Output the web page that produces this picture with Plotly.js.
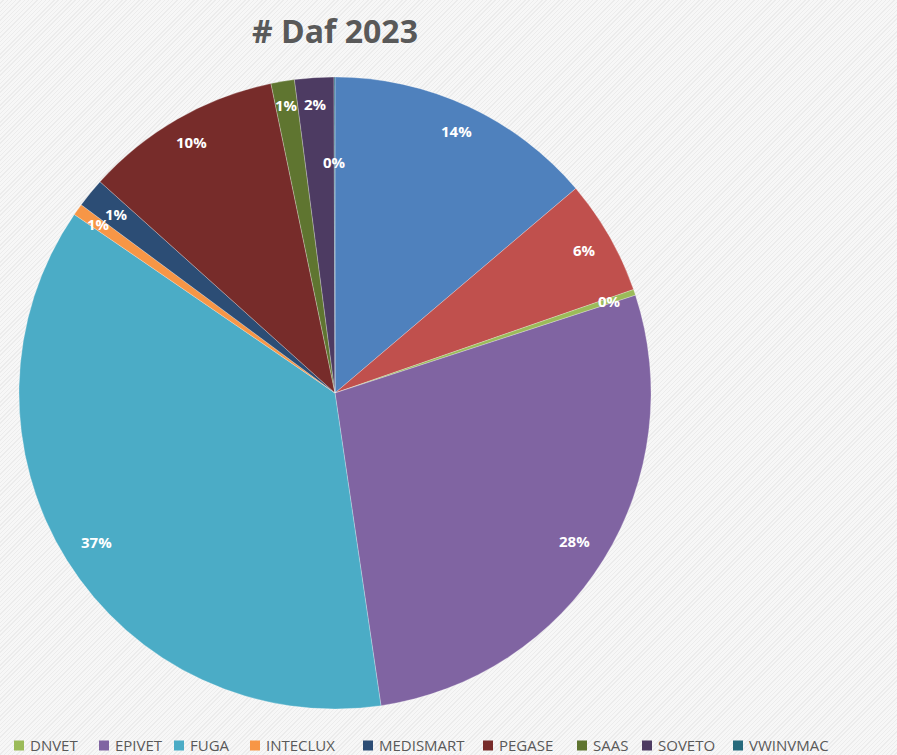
<!DOCTYPE html>
<html><head><meta charset="utf-8">
<script src="https://cdn.plot.ly/plotly-3.0.1.min.js"></script>
<style>
html,body{margin:0;padding:0;}
body{width:897px;height:755px;background:#f3f3f3;background-image:repeating-linear-gradient(135deg,#f7f7f7 0px,#f7f7f7 2px,#ececec 2px,#ececec 3px);}
#chart{width:897px;height:755px;}
</style></head><body><div id="chart"></div>
<script>
// data
const labels = ["(série 1)", "(série 2)", "DNVET", "EPIVET", "FUGA", "INTECLUX", "MEDISMART", "PEGASE", "SAAS", "SOVETO", "VWINVMAC"];
const values = [13.8, 5.9, 0.3, 27.7, 36.9, 0.6, 1.5, 10.1, 1.2, 2.0, 0.05];
const colors = ["#4f81bd", "#c0504d", "#9bbb59", "#8064a2", "#4bacc6", "#f79646", "#2c4d75", "#772c2a", "#5f7530", "#4d3b62", "#276a7c"];
const legendNames = ["DNVET", "EPIVET", "FUGA", "INTECLUX", "MEDISMART", "PEGASE", "SAAS", "SOVETO", "VWINVMAC"];
const legendColors = ["#9bbb59", "#8064a2", "#4bacc6", "#f79646", "#2c4d75", "#772c2a", "#5f7530", "#4d3b62", "#276a7c"];
const legendX = [14, 99, 174, 250, 363, 483, 577, 642, 733];
const labelRadius = [0.915, 0.91, 0.915, 0.89, 0.89, 0.92, 0.895, 0.915, 0.925, 0.915, 0.73];

const W = 897, H = 755;
const cx = 335, cy = 393, R = 316;
const dom = {x: [(cx - R) / W, (cx + R) / W], y: [1 - (cy + R) / H, 1 - (cy - R) / H]};

const total = values.reduce((a, b) => a + b, 0);
const annotations = [];
const shapes = [];
let cum = 0;
values.forEach((v, i) => {
  const mid = (cum + v / 2) / total * 2 * Math.PI;
  cum += v;
  const r = R * labelRadius[i];
  const px = cx + r * Math.sin(mid);
  const py = cy - r * Math.cos(mid);
  annotations.push({
    x: px / W, y: 1 - py / H, xref: 'paper', yref: 'paper', xanchor: 'center', yanchor: 'middle',
    showarrow: false,
    text: '<b>' + Math.round(v / total * 100) + '%</b>',
    font: {family: 'Open Sans, sans-serif', size: 15, color: '#ffffff'}
  });
});
legendNames.forEach((n, i) => {
  const sx = legendX[i];
  shapes.push({
    type: 'rect', xref: 'paper', yref: 'paper',
    x0: sx / W, x1: (sx + 10) / W, y0: 1 - 750.5 / H, y1: 1 - 740.5 / H,
    fillcolor: legendColors[i], line: {width: 0}
  });
  annotations.push({
    x: (sx + 14) / W, y: 1 - 744.5 / H, xref: 'paper', yref: 'paper', xanchor: 'left', yanchor: 'middle',
    showarrow: false, text: n,
    font: {family: 'Open Sans, sans-serif', size: 15, color: '#595959'}
  });
});

Plotly.newPlot('chart', [{
  type: 'pie', labels: labels, values: values, sort: false, direction: 'clockwise', rotation: 0,
  marker: {colors: colors, line: {color: 'rgba(255,255,255,0.5)', width: 0.5}},
  textinfo: 'none', hoverinfo: 'label+percent', showlegend: false, domain: dom
}], {
  width: W, height: H,
  margin: {l: 0, r: 0, t: 0, b: 0},
  paper_bgcolor: 'rgba(0,0,0,0)', plot_bgcolor: 'rgba(0,0,0,0)',
  title: {text: '<b># Daf 2023</b>', x: cx / W, xanchor: 'center', y: 1 - 32 / H, yanchor: 'middle',
    font: {family: 'Open Sans, sans-serif', size: 32, color: '#595959'}},
  annotations: annotations,
  shapes: shapes,
  showlegend: false
}, {displayModeBar: false});
</script></body></html>
